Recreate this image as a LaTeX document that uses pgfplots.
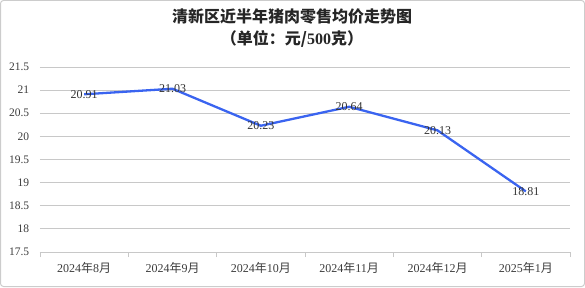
\documentclass[border=0pt]{standalone}
\usepackage{fontspec}
\setmainfont{Liberation Serif}
\newfontfamily\cjk{Noto Sans CJK SC}
\usepackage{pgfplots}
\pgfplotsset{compat=1.18}
\definecolor{lineblue}{RGB}{58,100,240}
\definecolor{gridgray}{RGB}{200,200,200}
\definecolor{txt}{RGB}{60,60,60}
\newcommand\lab[2]{#1{\cjk 年}#2{\cjk 月}}
\begin{document}
\begin{tikzpicture}[x=1pt,y=1pt]
\useasboundingbox (0,0) rectangle (585,287);
\draw[gray!40, rounded corners=3pt, line width=1pt] (0.5,0.5) rectangle (584.5,286.5);
\node[font=\cjk\bfseries\fontsize{16}{18}\selectfont, text=black!85] at (292,270) {清新区近半年猪肉零售均价走势图};
\node[font=\fontsize{16}{18}\selectfont, text=black!85] at (292,248) {{\cjk\bfseries （单位：元/}\textbf{500}{\cjk\bfseries 克）}};
\begin{axis}[
  at={(40pt,35pt)}, anchor=south west,
  scale only axis, width=530pt, height=185pt,
  xmin=0, xmax=6, ymin=17.5, ymax=21.5,
  ytick={17.5,18,...,21.5},
  yticklabels={17.5,18,18.5,19,19.5,20,20.5,21,21.5},
  xtick={0.5,1.5,2.5,3.5,4.5,5.5},
  xticklabels={\lab{2024}{8},\lab{2024}{9},\lab{2024}{10},\lab{2024}{11},\lab{2024}{12},\lab{2025}{1}},
  minor xtick={0,1,2,3,4,5,6},
  major x tick style={draw=none},
  minor x tick style={gridgray, line width=0.8pt},
  minor tick length=5pt,
  tick align=outside,
  xtick pos=bottom,
  ytick style={draw=none},
  ymajorgrids,
  grid style={gridgray, line width=0.8pt},
  axis x line*=bottom, axis y line*=left,
  x axis line style={gridgray, line width=0.8pt, -},
  y axis line style={draw=none},
  /pgf/number format/assume math mode=true,
  yticklabel style={font=\fontsize{11.5}{12}\selectfont, text=txt, xshift=-3pt},
  xticklabel style={font=\fontsize{12}{13}\selectfont, text=txt, yshift=-3pt},
  clip=false,
]
\addplot[lineblue, line width=2.3pt, line join=round,
  nodes near coords, point meta=explicit symbolic,
  nodes near coords style={anchor=center, font=\fontsize{12}{13}\selectfont, text=black!80}]
  table[meta=label] {
x y label
0.5 20.91 20.91
1.5 21.03 21.03
2.5 20.23 20.23
3.5 20.64 20.64
4.5 20.13 20.13
5.5 18.81 18.81
};
\end{axis}
\end{tikzpicture}
\end{document}
